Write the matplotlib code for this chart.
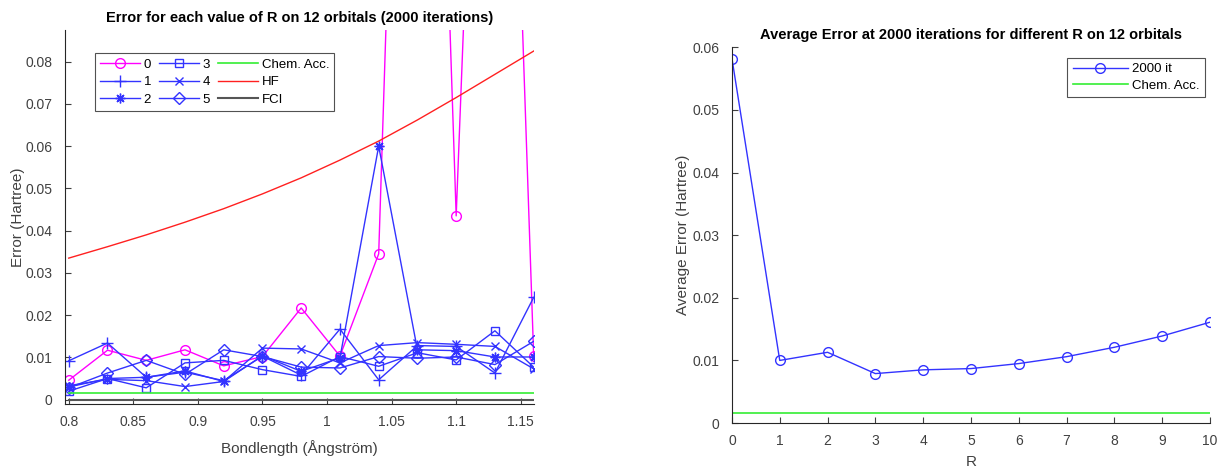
import numpy as np
import matplotlib
matplotlib.use('Agg')
import matplotlib.pyplot as plt
from matplotlib.ticker import FuncFormatter

plt.rcParams['font.family'] = ['Liberation Sans', 'DejaVu Sans']

# datos
bond = [0.80, 0.83, 0.86, 0.89, 0.92, 0.95, 0.98, 1.01, 1.04, 1.07, 1.10, 1.13, 1.16]
err0 = [0.0046, 0.0117, 0.0093, 0.0118, 0.0080, 0.0102, 0.0217, 0.0103, 0.0345, 0.32, 0.0435, 0.28, 0.0104]
err1 = [0.0092, 0.0134, 0.0053, 0.0065, 0.0045, 0.0103, 0.0058, 0.0167, 0.0047, 0.0128, 0.0126, 0.0063, 0.0242]
err2 = [0.0030, 0.0050, 0.0053, 0.0068, 0.0043, 0.0104, 0.0067, 0.0099, 0.0600, 0.0118, 0.0116, 0.0101, 0.0101]
err3 = [0.0020, 0.0050, 0.0028, 0.0087, 0.0093, 0.0071, 0.0055, 0.0102, 0.0079, 0.0111, 0.0094, 0.0163, 0.0077]
err4 = [0.0033, 0.0048, 0.0045, 0.0031, 0.0043, 0.0122, 0.0120, 0.0087, 0.0128, 0.0135, 0.0131, 0.0126, 0.0073]
err5 = [0.0028, 0.0063, 0.0093, 0.0060, 0.0118, 0.0102, 0.0077, 0.0075, 0.0102, 0.0098, 0.0101, 0.0083, 0.0138]
hf = [0.0335, 0.0362, 0.0390, 0.0420, 0.0452, 0.0487, 0.0525, 0.0567, 0.0612, 0.0662, 0.0715, 0.0770, 0.0825]
fci = [0.0] * len(bond)
chem_acc = 0.0016

R = [0, 1, 2, 3, 4, 5, 6, 7, 8, 9, 10]
avg_err = [0.0582, 0.0100, 0.0113, 0.0079, 0.0085, 0.0087, 0.0095, 0.0106, 0.0121, 0.0139, 0.0161]

gris = '#262626'
azul = '#3333ff'
asterisco = (8, 2, 0)

fig = plt.figure(figsize=(12.24, 4.68), dpi=100)
ax1 = fig.add_axes([0.053, 0.137, 0.383, 0.799])
ax2 = fig.add_axes([0.598, 0.096, 0.3905, 0.803])

def estilo(ax):
    ax.spines['top'].set_visible(False)
    ax.spines['right'].set_visible(False)
    for s in ['left', 'bottom']:
        ax.spines[s].set_color(gris)
        ax.spines[s].set_linewidth(0.8)
    ax.tick_params(direction='in', colors='#404040', labelsize=10, length=4)
    ax.tick_params(axis='x', pad=8)
    ax.tick_params(axis='y', pad=9)
    ax.yaxis.set_major_formatter(FuncFormatter(lambda v, p: '%g' % round(v, 4)))
    ax.xaxis.set_major_formatter(FuncFormatter(lambda v, p: '%g' % round(v, 4)))

# grafico izquierdo
series = [(err0, 'o', 'magenta', '0', 7), (err1, '+', azul, '1', 9), (err2, asterisco, azul, '2', 7),
          (err3, 's', azul, '3', 6), (err4, 'x', azul, '4', 6), (err5, 'D', azul, '5', 6)]
for ys, mk, col, lab, ms in series:
    ax1.plot(bond, ys, marker=mk, color=col, mfc='none', ms=ms, lw=1, mew=1, label=lab)
ax1.plot(bond, [chem_acc] * len(bond), color='#33ee33', lw=1.2, label='Chem. Acc.')
ax1.plot(bond, hf, color='#ff2020', lw=1, label='HF')
ax1.plot(bond, fci, color='#555555', lw=1.5, label='FCI')
ax1.set_xlim(0.797, 1.16)
ax1.set_ylim(-0.001, 0.0875)
ax1.set_xticks(np.arange(0.8, 1.151, 0.05))
ax1.set_yticks(np.arange(0, 0.081, 0.01))
estilo(ax1)
ax1.set_title('Error for each value of R on 12 orbitals (2000 iterations)', fontsize=10.5, fontweight='bold')
ax1.set_xlabel('Bondlength (Ångström)', fontsize=11, color='#404040', labelpad=8)
ax1.set_ylabel('Error (Hartree)', fontsize=11, color='#404040', labelpad=0)
leg = ax1.legend(ncol=3, loc='upper left', bbox_to_anchor=(0.05, 0.955), fontsize=9.5,
                 fancybox=False, edgecolor=gris, handlelength=3.0, columnspacing=0.6,
                 handletextpad=0.3, labelspacing=0.4, borderpad=0.4)
leg.get_frame().set_linewidth(0.8)

# grafico derecho
ax2.plot(R, avg_err, marker='o', color=azul, mfc='none', ms=7, lw=1, label='2000 it')
ax2.plot(R, [chem_acc] * len(R), color='#33ee33', lw=1.2, label='Chem. Acc.')
ax2.set_xlim(0, 10)
ax2.set_ylim(0, 0.06)
ax2.set_xticks(R)
ax2.set_yticks(np.arange(0, 0.061, 0.01))
estilo(ax2)
ax2.set_title('Average Error at 2000 iterations for different R on 12 orbitals', fontsize=10.5, fontweight='bold')
ax2.set_xlabel('R', fontsize=11, color='#404040', labelpad=5)
ax2.set_ylabel('Average Error (Hartree)', fontsize=11, color='#404040', labelpad=2)
leg2 = ax2.legend(loc='upper right', bbox_to_anchor=(1.003, 0.99), fontsize=9.5,
                  fancybox=False, edgecolor=gris, handlelength=4.2, handletextpad=0.3,
                  labelspacing=0.35, borderpad=0.4)
leg2.get_frame().set_linewidth(0.8)

fig.savefig('out.png', dpi=100)
